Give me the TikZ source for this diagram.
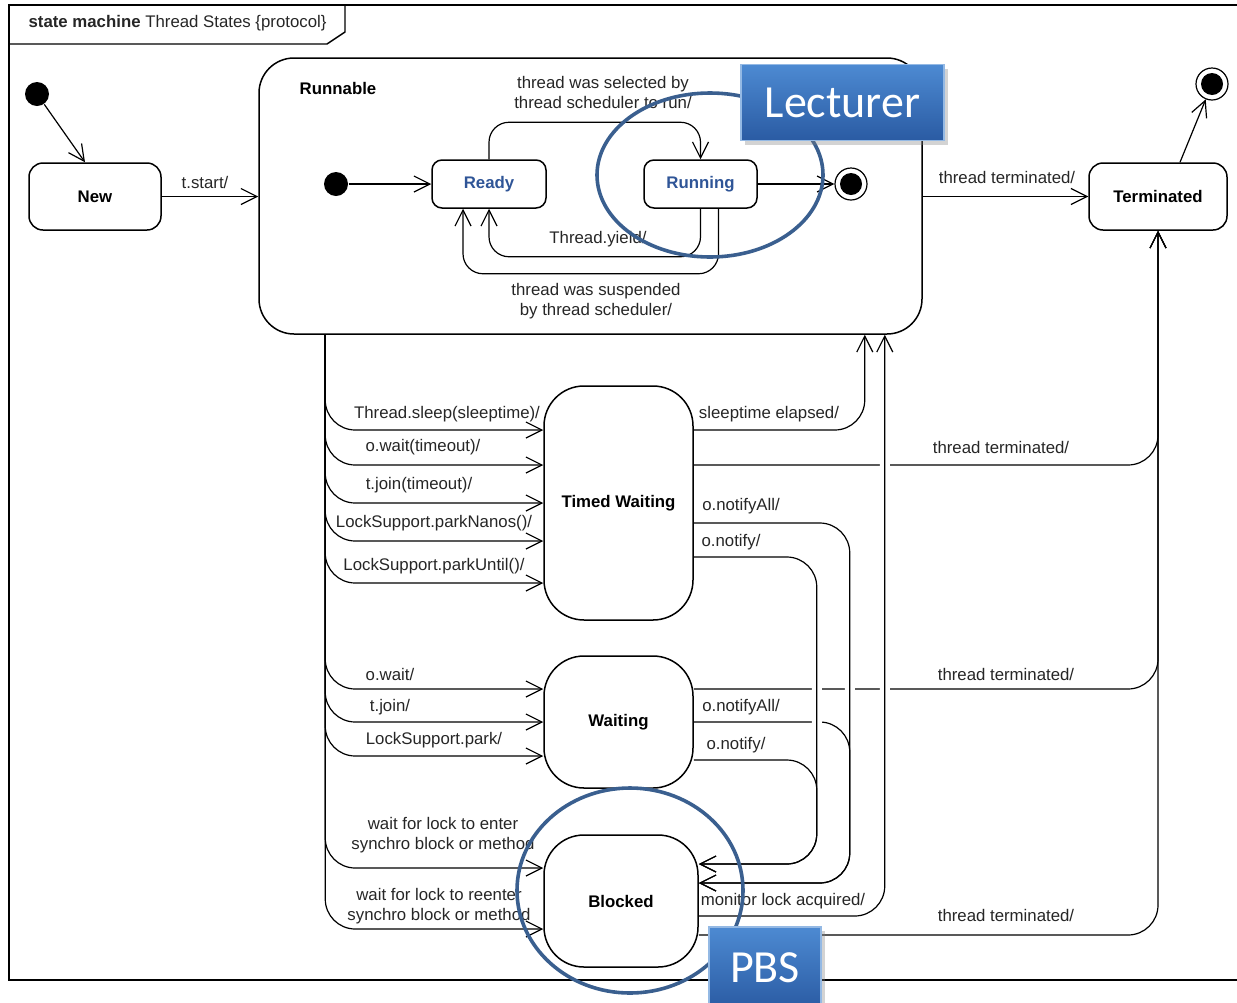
\documentclass[tikz,border=0pt]{standalone}
\usepackage{fontspec}
\setmainfont{Liberation Sans}
\newfontfamily\calibri{Carlito}
\usetikzlibrary{arrows.meta, shapes.geometric, shadows}
\definecolor{umlblue}{HTML}{2F5597}
\definecolor{ringblue}{HTML}{3A5F8F}
\definecolor{boxtop}{HTML}{4D8AD2}
\definecolor{boxbot}{HTML}{2A5BA3}

\begin{document}
\begin{tikzpicture}[x=0.5pt, y=-0.5pt, line width=0.6pt,
  font=\fontsize{8.4}{10}\selectfont,
  state/.style={draw, rectangle, rounded corners=7pt, line width=0.75pt, font=\fontsize{8.4}{10}\selectfont\bfseries, inner sep=0pt},
  initdot/.style={circle, fill=black, inner sep=0pt, minimum size=12pt},
  enddot/.style={circle, draw, fill=white, inner sep=0pt, minimum size=16pt,
    path picture={\fill[black] (path picture bounding box.center) circle (5.5pt);}},
  tr/.style={-{Straight Barb[length=8pt,width=8pt]}, rounded corners=15pt},
  lbl/.style={inner sep=0pt, text=black!85, align=center},
  jump/.style={preaction={draw=white, line width=5pt, -, shorten <=4pt, shorten >=4pt}},
  ring/.style={draw=ringblue, line width=1.8pt, ellipse, inner sep=0pt},
  notebox/.style={draw=boxtop!60!white, top color=boxtop, bottom color=boxbot, text=white,
    font=\calibri\fontsize{23}{26}\selectfont, inner sep=0pt,
    drop shadow={opacity=0.35, shadow xshift=2pt, shadow yshift=-2pt}}
]
\useasboundingbox (0,0) rectangle (1237,1002);
\draw[line width=1pt] (1237,5) -- (9,5) -- (9,980) -- (1237,980);
\draw[line width=0.7pt] (9,44) -- (327,44) -- (345,32) -- (345,5);
\node[lbl, anchor=west] (title) at (28,23) {\textbf{state machine} Thread States \{protocol\}};

\node[initdot] (i0) at (37,94) {};
\node[state, minimum width=66pt, minimum height=33.5pt] (new) at (95,196.5) {New};
\node[state, rounded corners=17.5pt, minimum width=331.5pt, minimum height=138pt] (runnable) at (590.5,196) {};
\node[font=\fontsize{8.4}{10}\selectfont\bfseries, inner sep=0pt] (runlbl) at (338,88) {Runnable};
\node[initdot] (i1) at (336,184) {};
\node[state, rounded corners=5pt, text=umlblue, minimum width=57pt, minimum height=24pt] (ready) at (489,184) {Ready};
\node[state, rounded corners=5pt, text=umlblue, minimum width=56.5pt, minimum height=24pt] (running) at (700.5,184) {Running};
\node[enddot] (f1) at (851,184) {};
\node[state, minimum width=69pt, minimum height=33.5pt] (term) at (1158,196.5) {Terminated};
\node[enddot] (f2) at (1212,84) {};
\node[state, rounded corners=20pt, minimum width=74.5pt, minimum height=117pt] (timed) at (618.5,503) {Timed Waiting};
\node[state, rounded corners=20pt, minimum width=74.5pt, minimum height=66pt] (waiting) at (618.5,722) {Waiting};
\node[state, rounded corners=20pt, minimum width=77pt, minimum height=66pt] (blocked) at (621,901) {Blocked};
\coordinate (bus) at ([xshift=33.5pt]runnable.south west);

\draw[tr] (i0) -- ([xshift=-5pt]new.north);
\draw[tr] (new.east) -- (runnable.west |- new.east);
\draw[tr] (i1) -- (ready.west);
\draw[tr, rounded corners=10pt] (ready.north) -- ++(0,-37) -| (running.north);
\draw[tr, rounded corners=10pt] (running.south) -- ++(0,48) -| (ready.south);
\draw[tr, rounded corners=10pt] ([xshift=9pt]running.south) -- ++(0,65) -| ([xshift=-13pt]ready.south);
\draw[tr] (running.east) -- (f1);
\draw[tr] (runnable.east |- term.west) -- (term.west);
\draw[tr] ([xshift=11pt]term.north) -- (f2);

\draw[tr] (bus) |- ([yshift=36.5pt]timed.west);
\draw[tr] (bus) |- ([yshift=19pt]timed.west);
\draw[tr] (bus) |- (timed.west);
\draw[tr] (bus) |- ([yshift=-19pt]timed.west);
\draw[tr] (bus) |- ([yshift=-40pt]timed.west);
\draw[tr] (bus) |- ([yshift=16.5pt]waiting.west);
\draw[tr] (bus) |- (waiting.west);
\draw[tr] (bus) |- ([yshift=-17pt]waiting.west);
\draw[tr] (bus) |- ([yshift=16.5pt]blocked.west);
\draw[tr] (bus) |- ([yshift=-14pt]blocked.west);

\draw[tr] ([yshift=36.5pt]timed.east) -| ([xshift=-29pt]runnable.south east);
\draw[tr] ([yshift=19pt]timed.east) -| (term.south);
\draw[tr] ([yshift=16.5pt]waiting.east) -| (term.south);
\draw[tr] ([yshift=-17pt]blocked.east) -| (term.south);
\draw[tr, jump] ([yshift=-7.5pt]blocked.east) -| ([xshift=-19pt]runnable.south east);
\draw[tr, jump] ([yshift=-10pt]timed.east) -- ++(156,0) |- ([yshift=9pt]blocked.east);
\draw[tr] (waiting.east) -- ++(156,0) |- ([yshift=9pt]blocked.east);
\draw[tr, jump] ([yshift=-27pt]timed.east) -- ++(123,0) |- ([yshift=18.5pt]blocked.east);
\draw[tr] ([yshift=-19pt]waiting.east) -- ++(123,0) |- ([yshift=18.5pt]blocked.east);

\node[lbl] (l-start) at (205,182) {t.start/};
\node[lbl] (l-select) at (603,92) {thread was selected by\\thread scheduler to run/};
\node[lbl] (l-yield) at (598,239) {Thread.yield/};
\node[lbl] (l-suspend) at (596,301) {thread was suspended\\by thread scheduler/};
\node[lbl] (l-term1) at (1007,177) {thread terminated/};
\node[lbl] (l-sleep) at (447,414) {Thread.sleep(sleeptime)/};
\node[lbl] (l-waitto) at (423,447) {o.wait(timeout)/};
\node[lbl] (l-jointo) at (419,485) {t.join(timeout)/};
\node[lbl] (l-nanos) at (434,523) {LockSupport.parkNanos()/};
\node[lbl] (l-until) at (434,566) {LockSupport.parkUntil()/};
\node[lbl] (l-wait) at (390,674) {o.wait/};
\node[lbl] (l-join) at (390,707) {t.join/};
\node[lbl] (l-park) at (434,740) {LockSupport.park/};
\node[lbl] (l-enter) at (443,835) {wait for lock to enter\\synchro block or method};
\node[lbl] (l-reenter) at (439,906) {wait for lock to reenter\\synchro block or method};
\node[lbl] (l-elapsed) at (769,414) {sleeptime elapsed/};
\node[lbl] (l-term2) at (1001,447) {thread terminated/};
\node[lbl] (l-all1) at (741,506) {o.notifyAll/};
\node[lbl] (l-one1) at (731,542) {o.notify/};
\node[lbl] (l-term3) at (1006,674) {thread terminated/};
\node[lbl] (l-all2) at (741,707) {o.notifyAll/};
\node[lbl] (l-one2) at (736,745) {o.notify/};
\node[lbl] (l-monitor) at (783,901) {monitor lock acquired/};
\node[lbl] (l-term4) at (1006,915) {thread terminated/};

\node[ring, minimum width=113pt, minimum height=82pt] (ring1) at (710,175) {};
\node[notebox, minimum width=101.5pt, minimum height=38pt] (lecturer) at (842.5,102.5) {Lecturer};
\node[ring, minimum width=113pt, minimum height=102.5pt] (ring2) at (630,890.5) {};
\node[notebox, minimum width=56pt, minimum height=41pt] (pbs) at (765,968) {PBS};
\end{tikzpicture}
\end{document}
